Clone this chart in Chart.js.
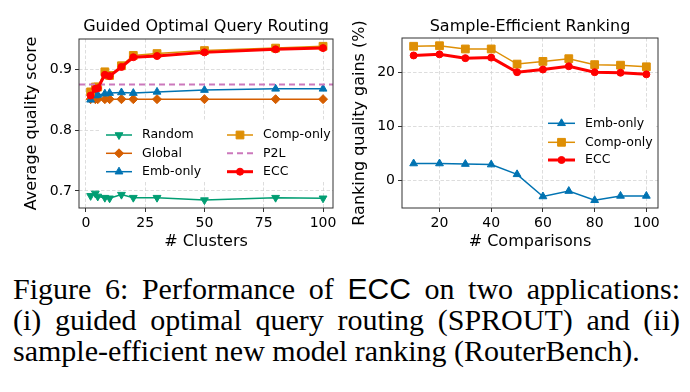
<!DOCTYPE html>
<html>
<head>
<meta charset="utf-8">
<script src="https://cdn.jsdelivr.net/npm/chart.js@4.4.1/dist/chart.umd.min.js"></script>
<style>
    body { margin: 0; background: #fff; width: 690px; height: 392px; overflow: hidden; position: relative; }
    .panel { position: absolute; top: 0; }
    #caption {
        position: absolute; left: 13px; top: 273px; width: 667px;
        font-family: "Liberation Serif", "Times New Roman", serif;
        font-size: 30px; line-height: 31px; color: #000;
    }
    #caption .ln { text-align: justify; text-align-last: justify; white-space: nowrap; }
    #caption .ln.last { text-align-last: left; }
    #caption .sf { font-family: "Liberation Sans", Arial, sans-serif; }
</style>
</head>
<body>
<canvas id="routingChart" class="panel" width="345" height="260" style="left:0"></canvas>
<canvas id="rankingChart" class="panel" width="345" height="260" style="left:345px"></canvas>
<div id="caption">
    <div class="ln">Figure 6: Performance of <span class="sf">ECC</span> on two applications:</div>
    <div class="ln">(i) guided optimal query routing (SPROUT) and (ii)</div>
    <div class="ln last">sample-efficient new model ranking (RouterBench).</div>
</div>
<script>
// Guided Optimal Query Routing (left panel)
const clusterCounts = [2, 4, 5, 8, 10, 15, 20, 30, 50, 80, 100];
const routeRandom   = [0.692, 0.696, 0.691, 0.689, 0.688, 0.694, 0.689, 0.689, 0.685, 0.689, 0.688];
const routeGlobal   = [0.851, 0.851, 0.851, 0.851, 0.851, 0.851, 0.851, 0.851, 0.851, 0.851, 0.851];
const routeEmbOnly  = [0.850, 0.857, 0.858, 0.860, 0.861, 0.862, 0.861, 0.863, 0.866, 0.868, 0.868];
const routeCompOnly = [0.863, 0.871, 0.871, 0.896, 0.890, 0.906, 0.923, 0.926, 0.931, 0.935, 0.938];
const routeECC      = [0.857, 0.868, 0.869, 0.891, 0.889, 0.904, 0.920, 0.922, 0.928, 0.933, 0.935];
const p2lScore = 0.875;
const clusterTicks = [0, 25, 50, 75, 100];
const scoreTicks = [0.7, 0.8, 0.9];

// Sample-Efficient Ranking (right panel)
const comparisonCounts = [10, 20, 30, 40, 50, 60, 70, 80, 90, 100];
const rankEmbOnly  = [3.1, 3.1, 3.0, 2.9, 1.1, -3.0, -2.0, -3.7, -2.9, -2.9];
const rankCompOnly = [24.8, 24.9, 24.3, 24.3, 21.5, 22.0, 22.5, 21.4, 21.3, 21.0];
const rankECC      = [23.1, 23.3, 22.6, 22.7, 20.0, 20.5, 21.1, 20.0, 19.9, 19.6];
const comparisonTicks = [20, 40, 60, 80, 100];
const gainTicks = [0, 10, 20];

const FONT = '"DejaVu Sans", Verdana, sans-serif';

const COLORS = {
    random: '#029e73',
    global: '#d55e00',
    emb: '#0173b2',
    comp: '#de8f05',
    p2l: '#cc78bc',
    ecc: '#ff0000'
};

function toPoints(xs, ys) {
    return xs.map((x, i) => ({ x: x, y: ys[i] }));
}

function series(label, xs, ys, color, style, radius, extra) {
    return Object.assign({
        label: label,
        data: toPoints(xs, ys),
        borderColor: color,
        backgroundColor: color,
        borderWidth: 1.5,
        pointStyle: style,
        pointRadius: radius,
        pointBackgroundColor: color,
        pointBorderColor: color,
        pointBorderWidth: 1,
        tension: 0
    }, extra || {});
}

// Panel title centred over the plot area
function titlePlugin(text, y) {
    return {
        id: 'panelTitle',
        afterDraw(chart) {
            const ctx = chart.ctx, a = chart.chartArea;
            ctx.save();
            ctx.font = '16px ' + FONT;
            ctx.fillStyle = '#000';
            ctx.textAlign = 'center';
            ctx.textBaseline = 'middle';
            ctx.fillText(text, (a.left + a.right) / 2, y);
            ctx.restore();
        }
    };
}

// matplotlib-like box around the axes
const framePlugin = {
    id: 'frame',
    afterDatasetsDraw(chart) {
        const ctx = chart.ctx, a = chart.chartArea;
        ctx.save();
        ctx.strokeStyle = '#333';
        ctx.lineWidth = 1;
        ctx.strokeRect(a.left, a.top, a.right - a.left, a.bottom - a.top);
        ctx.restore();
    }
};

// Legend drawn inside the axes with a white background
function legendPlugin(box, entries) {
    return {
        id: 'panelLegend',
        afterDraw(chart) {
            const ctx = chart.ctx;
            ctx.save();
            ctx.fillStyle = '#fff';
            ctx.fillRect(box.x, box.y, box.w, box.h);
            entries.forEach(e => {
                const ds = chart.data.datasets[e.index];
                ctx.strokeStyle = ds.borderColor;
                ctx.lineWidth = ds.borderWidth;
                ctx.setLineDash(ds.borderDash || []);
                ctx.beginPath();
                ctx.moveTo(e.x1, e.y);
                ctx.lineTo(e.x2, e.y);
                ctx.stroke();
                ctx.setLineDash([]);
                if (ds.pointRadius > 0) {
                    ctx.fillStyle = ds.pointBackgroundColor;
                    ctx.strokeStyle = ds.pointBorderColor;
                    ctx.lineWidth = 1;
                    Chart.helpers.drawPoint(ctx, {
                        pointStyle: ds.pointStyle,
                        rotation: ds.pointRotation || 0,
                        radius: ds.pointRadius,
                        borderWidth: 1
                    }, (e.x1 + e.x2) / 2, e.y);
                }
                ctx.fillStyle = '#000';
                ctx.font = '12.5px ' + FONT;
                ctx.textAlign = 'left';
                ctx.textBaseline = 'middle';
                ctx.fillText(ds.label, e.tx, e.y);
            });
            ctx.restore();
        }
    };
}

function axisOptions(opts) {
    return {
        type: 'linear',
        min: opts.min,
        max: opts.max,
        afterBuildTicks: s => { s.ticks = opts.ticks.map(v => ({ value: v })); },
        afterFit: opts.fit,
        grid: {
            color: '#d4d4d4',
            lineWidth: 0.8,
            tickLength: 4,
            tickColor: '#333',
            tickWidth: 1
        },
        border: { display: false, dash: [3.5, 2] },
        ticks: {
            color: '#000',
            font: { family: FONT, size: 14 },
            padding: 3,
            maxRotation: 0,
            autoSkip: false,
            callback: opts.format
        },
        title: {
            display: true,
            text: opts.title,
            color: '#000',
            font: { family: FONT, size: 16 },
            padding: opts.titlePadding
        }
    };
}

// Left panel
new Chart(document.getElementById('routingChart'), {
    type: 'line',
    data: {
        datasets: [
            series('Random', clusterCounts, routeRandom, COLORS.random, 'triangle', 4.5, { pointRotation: 180, order: 6 }),
            series('Global', clusterCounts, routeGlobal, COLORS.global, 'rectRot', 4.5, { order: 5 }),
            series('Emb-only', clusterCounts, routeEmbOnly, COLORS.emb, 'triangle', 4.5, { order: 4 }),
            series('Comp-only', clusterCounts, routeCompOnly, COLORS.comp, 'rect', 5.5, { order: 3 }),
            {
                label: 'P2L',
                data: [{ x: -2.9, y: p2lScore }, { x: 104.2, y: p2lScore }],
                borderColor: COLORS.p2l,
                borderWidth: 2,
                borderDash: [6, 4],
                pointRadius: 0,
                order: 2
            },
            series('ECC', clusterCounts, routeECC, COLORS.ecc, 'circle', 3.5, { borderWidth: 3, order: 1 })
        ]
    },
    options: {
        responsive: false,
        animation: false,
        layout: { padding: { left: 0, right: 12, top: 39, bottom: 0 } },
        plugins: { legend: { display: false }, tooltip: { enabled: false } },
        scales: {
            x: axisOptions({
                min: -2.9, max: 104.2, ticks: clusterTicks,
                fit: s => { s.height = 52; },
                format: v => String(v),
                title: '# Clusters',
                titlePadding: { top: 0, bottom: 9 }
            }),
            y: axisOptions({
                min: 0.672, max: 0.950, ticks: scoreTicks,
                fit: s => { s.width = 79; },
                format: v => v.toFixed(1),
                title: 'Average quality score',
                titlePadding: { top: 22.4, bottom: 0 }
            })
        }
    },
    plugins: [
        framePlugin,
        titlePlugin('Guided Optimal Query Routing', 27),
        legendPlugin({ x: 99, y: 121, w: 233, h: 60 }, [
            { index: 0, x1: 106, x2: 132, tx: 142, y: 135 },
            { index: 1, x1: 106, x2: 132, tx: 142, y: 153.3 },
            { index: 2, x1: 106, x2: 132, tx: 142, y: 171.7 },
            { index: 3, x1: 227, x2: 253, tx: 263, y: 135 },
            { index: 4, x1: 227, x2: 253, tx: 263, y: 153.3 },
            { index: 5, x1: 227, x2: 253, tx: 263, y: 171.7 }
        ])
    ]
});

// Right panel
new Chart(document.getElementById('rankingChart'), {
    type: 'line',
    data: {
        datasets: [
            series('Emb-only', comparisonCounts, rankEmbOnly, COLORS.emb, 'triangle', 4.5, { order: 3 }),
            series('Comp-only', comparisonCounts, rankCompOnly, COLORS.comp, 'rect', 5.5, { order: 2 }),
            series('ECC', comparisonCounts, rankECC, COLORS.ecc, 'circle', 3.5, { borderWidth: 3, order: 1 })
        ]
    },
    options: {
        responsive: false,
        animation: false,
        layout: { padding: { left: 0, right: 32, top: 38, bottom: 0 } },
        plugins: { legend: { display: false }, tooltip: { enabled: false } },
        scales: {
            x: axisOptions({
                min: 5.5, max: 104.5, ticks: comparisonTicks,
                fit: s => { s.height = 52; },
                format: v => String(v),
                title: '# Comparisons',
                titlePadding: { top: 0, bottom: 9 }
            }),
            y: axisOptions({
                min: -5.13, max: 26.33, ticks: gainTicks,
                fit: s => { s.width = 57; },
                format: v => String(v),
                title: 'Ranking quality gains (%)',
                titlePadding: { top: 5.4, bottom: 0 }
            })
        }
    },
    plugins: [
        framePlugin,
        titlePlugin('Sample-Efficient Ranking', 27),
        legendPlugin({ x: 198, y: 110, w: 113, h: 60 }, [
            { index: 0, x1: 203, x2: 230, tx: 240, y: 123.3 },
            { index: 1, x1: 203, x2: 230, tx: 240, y: 142.3 },
            { index: 2, x1: 203, x2: 230, tx: 240, y: 160 }
        ])
    ]
});
</script>
</body>
</html>
